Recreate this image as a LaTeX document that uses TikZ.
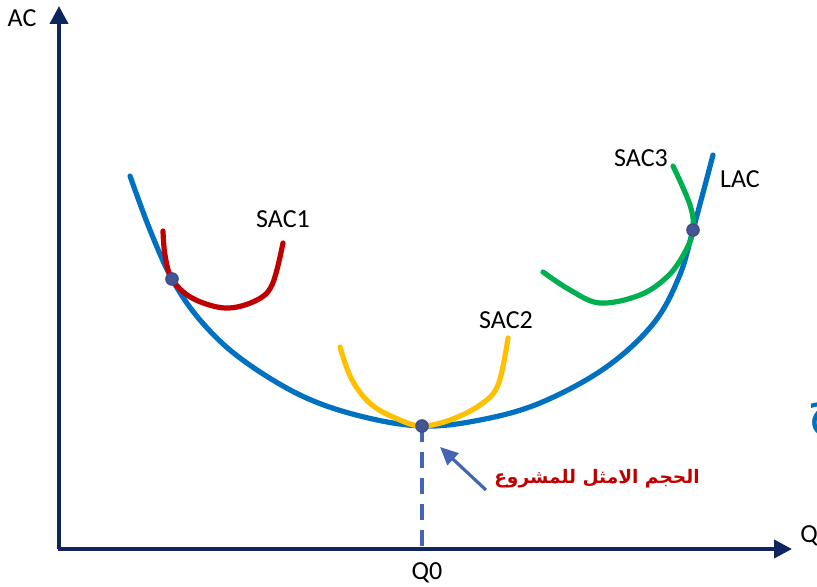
\documentclass[tikz,border=0pt]{standalone}
\usepackage{fontspec}
\setmainfont{Carlito}
\newfontfamily\arabicfont[Script=Arabic]{DejaVu Sans}
\TeXXeTstate=1
\usetikzlibrary{calc}
\usetikzlibrary{arrows.meta}

\definecolor{axisnavy}{RGB}{16,36,94}
\definecolor{lacblue}{RGB}{0,112,192}
\definecolor{sacred}{RGB}{192,0,0}
\definecolor{sacgold}{RGB}{255,192,0}
\definecolor{sacgreen}{RGB}{0,176,80}
\definecolor{dotfill}{RGB}{68,84,150}
\definecolor{pointer}{RGB}{68,100,180}

\tikzset{
  axis/.style={line width=2pt, axisnavy, -{Triangle[length=9pt,width=9pt]}},
  costcurve/.style={line width=2.6pt, line cap=round},
  tangency/.style={circle, fill=dotfill, draw=axisnavy!80, line width=0.8pt, inner sep=0pt, minimum size=6pt},
  lbl/.style={font=\fontsize{13}{15}\selectfont, text=black}
}

\begin{document}
\begin{tikzpicture}[x=0.5pt,y=-0.5pt]
    \useasboundingbox (0,0) rectangle (817,587);
    \coordinate (O) at (59,549);
    \coordinate (ytop) at (59,6);
    \coordinate (xend) at (792,549);
    \draw[axis] (O) -- (ytop);
    \draw[axis] ($(O)+(-1,0)$) -- (xend);
    \node[lbl] (ac) at (22,18) {AC};
    \node[lbl] (q) at (809,536) {Q};

    \coordinate (t1) at (172,279);
    \coordinate (t2) at (422,426);
    \coordinate (t3) at (693,230);
    \coordinate (q0) at (t2 |- O);

    \draw[pointer, line width=1.8pt, dashed, dash pattern=on 8pt off 5pt] (t2) -- (q0);
    \node[lbl] (q0lbl) at (427,573) {Q0};

    \draw[costcurve, lacblue] plot[smooth, tension=0.6] coordinates {(130,176) (150,230) (172,279) (200,320) (240,358) (300,395) (360,416) (422,426) (480,420) (540,403) (605,368) (653,324) (679,277) (693,230) (713,155)};
    \draw[costcurve, sacred] plot[smooth, tension=0.6] coordinates {(163,231) (165,255) (172,279) (192,298) (225,308) (255,301) (272,285) (283,243)};
    \draw[costcurve, sacgold] plot[smooth, tension=0.6] coordinates {(340,347) (352,380) (372,405) (400,420) (422,426) (450,420) (480,405) (498,385) (508,338)};
    \draw[costcurve, sacgreen] plot[smooth, tension=0.6] coordinates {(543,272) (570,290) (600,303) (640,295) (668,276) (685,252) (693,230) (690,205) (673,166)};

    \node[lbl] (sac1) at (283,219) {SAC1};
    \node[lbl] (sac2) at (506,320) {SAC2};
    \node[lbl] (sac3) at (641,158) {SAC3};
    \node[lbl] (lac) at (740,179) {LAC};

    \node[tangency] (d1) at (t1) {};
    \node[tangency] (d2) at (t2) {};
    \node[tangency] (d3) at (t3) {};

    \node[font=\arabicfont\bfseries\fontsize{9.3}{11}\selectfont, text=sacred] (optimal) at (597,479) {\beginR الحجم الامثل  للمشروع\endR};
    \draw[pointer, line width=1.6pt, -{Triangle[length=9pt,width=8pt]}] (486,490) -- (440,447);

    \node[font=\arabicfont\fontsize{26}{30}\selectfont, text=lacblue, anchor=west] (cut) at (800,420) {\beginR ج\endR};
\end{tikzpicture}
\end{document}
